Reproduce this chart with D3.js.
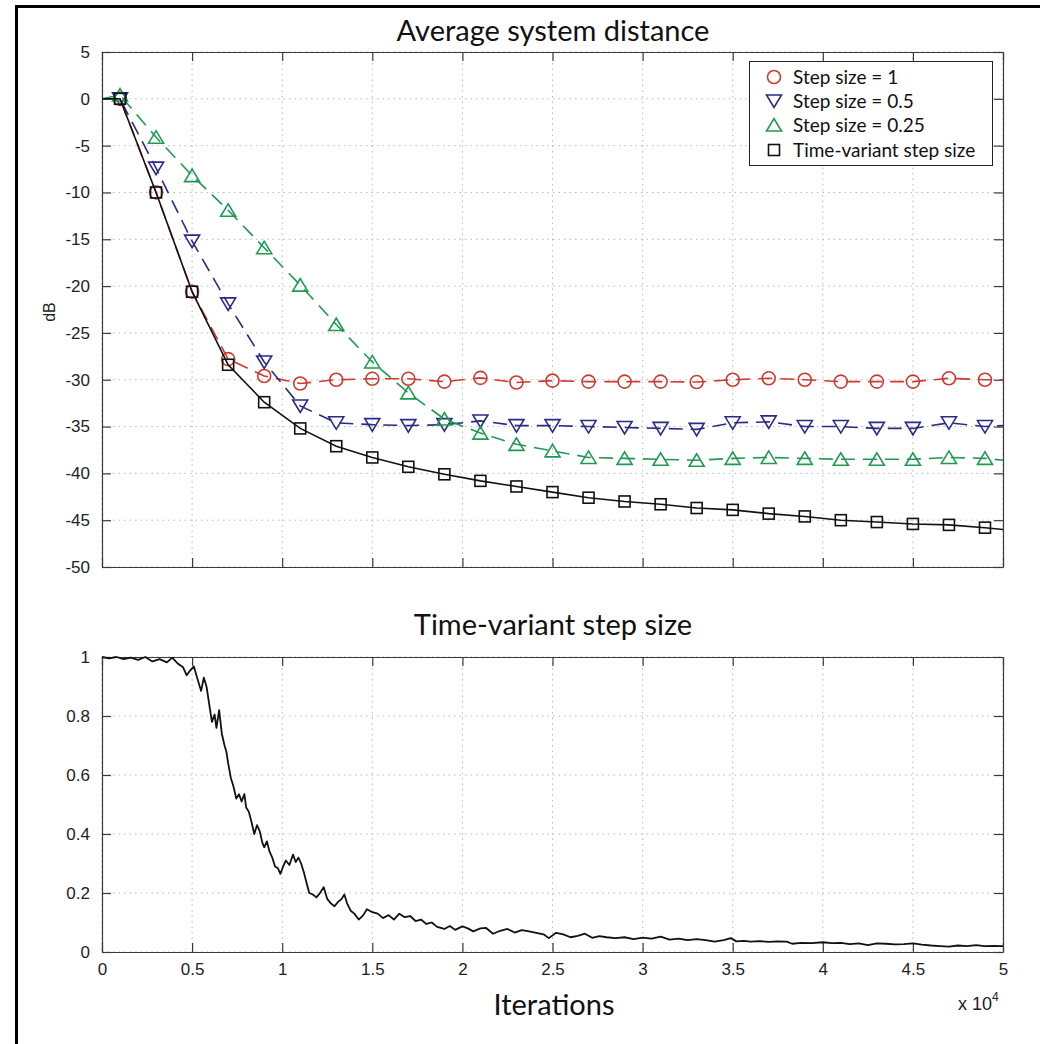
<!DOCTYPE html>
<html>
<head>
<meta charset="utf-8">
<script src="https://cdn.jsdelivr.net/npm/d3@7"></script>
<style>
  body { margin: 0; background: #fff; }
  svg { display: block; }
</style>
</head>
<body>
<div class="chart"></div>
<script>
// x values are in units of 10^4 iterations
var xTicks = [0, 0.5, 1, 1.5, 2, 2.5, 3, 3.5, 4, 4.5, 5]
var xTickLabels = ['0', '0.5', '1', '1.5', '2', '2.5', '3', '3.5', '4', '4.5', '5']
var dbTicks = [5, 0, -5, -10, -15, -20, -25, -30, -35, -40, -45, -50]
var muTicks = [0, 0.2, 0.4, 0.6, 0.8, 1]

// marker positions shared by the four curves of the top panel
var markerX = [0.1, 0.3, 0.5, 0.7, 0.9, 1.1, 1.3, 1.5, 1.7, 1.9, 2.1, 2.3, 2.5,
  2.7, 2.9, 3.1, 3.3, 3.5, 3.7, 3.9, 4.1, 4.3, 4.5, 4.7, 4.9]
var stepOne = [0, -10, -20.6, -27.8, -29.6, -30.4, -30.0, -29.9, -29.9, -30.2, -29.8, -30.3, -30.1,
  -30.2, -30.2, -30.2, -30.25, -30.0, -29.85, -30.0, -30.2, -30.2, -30.2, -29.85, -30.0]
var stepHalf = [0, -7.4, -15.2, -21.9, -28.1, -32.8, -34.6, -34.8, -34.9, -34.8, -34.4, -34.9, -34.9,
  -35.0, -35.1, -35.2, -35.3, -34.6, -34.5, -35.0, -35.0, -35.2, -35.2, -34.6, -35.0]
var stepQuarter = [0.4, -4.1, -8.2, -11.9, -15.9, -19.9, -24.1, -28.1, -31.4, -34.2, -35.7, -36.9, -37.6,
  -38.3, -38.4, -38.5, -38.6, -38.4, -38.3, -38.4, -38.5, -38.5, -38.5, -38.3, -38.4]
var stepVariant = [0, -10.0, -20.6, -28.4, -32.4, -35.2, -37.1, -38.3, -39.3, -40.1, -40.8, -41.4, -42.0,
  -42.6, -43.0, -43.3, -43.7, -43.9, -44.3, -44.6, -45.0, -45.2, -45.4, -45.5, -45.8]
// line start (x = 0) and end (x = 5) values
var lineStart = [0, 0, 0, 0]
var lineEnd = [-30.0, -34.9, -38.6, -46.0]

var seriesNames = ['Step size = 1', 'Step size = 0.5', 'Step size = 0.25', 'Time-variant step size']

// bottom panel: time-variant step size
var muX = [0, 0.04, 0.08, 0.12, 0.16, 0.2, 0.24, 0.28, 0.32, 0.36, 0.39, 0.42, 0.45, 0.47, 0.49,
  0.51, 0.53, 0.55, 0.565, 0.58, 0.6, 0.61, 0.625, 0.635, 0.65, 0.665, 0.68, 0.69, 0.7, 0.715,
  0.73, 0.745, 0.76, 0.775, 0.79, 0.8, 0.815, 0.83, 0.845, 0.86, 0.875, 0.89, 0.9, 0.915, 0.93,
  0.945, 0.96, 0.975, 0.99, 1.005, 1.02, 1.04, 1.06, 1.075, 1.09, 1.105, 1.12, 1.135, 1.15, 1.17,
  1.19, 1.21, 1.23, 1.25, 1.27, 1.29, 1.31, 1.33, 1.345, 1.36, 1.38, 1.4, 1.425, 1.45, 1.47,
  1.5, 1.53, 1.56, 1.59, 1.62, 1.65, 1.68, 1.71, 1.74, 1.77, 1.8, 1.83, 1.86, 1.9, 1.93, 1.96,
  2.0, 2.03, 2.06, 2.1, 2.13, 2.17, 2.21, 2.25, 2.29, 2.33, 2.37, 2.41, 2.45, 2.48, 2.52, 2.56,
  2.6, 2.64, 2.68, 2.72, 2.76, 2.8, 2.85, 2.9, 2.95, 3.0, 3.05, 3.1, 3.15, 3.2, 3.25, 3.3, 3.35,
  3.4, 3.45, 3.49, 3.52, 3.56, 3.6, 3.65, 3.7, 3.75, 3.8, 3.83, 3.88, 3.94, 4.0, 4.05, 4.1, 4.15,
  4.2, 4.25, 4.3, 4.35, 4.4, 4.45, 4.5, 4.55, 4.6, 4.65, 4.7, 4.75, 4.8, 4.85, 4.9, 4.95, 5.0]
var muVal = [1.0, 0.995, 1.0, 0.993, 0.998, 0.99, 1.0, 0.985, 0.993, 0.982, 0.998, 0.978, 0.965, 0.938, 0.955,
  0.968, 0.925, 0.885, 0.93, 0.9, 0.82, 0.78, 0.805, 0.76, 0.82, 0.74, 0.7, 0.68, 0.64, 0.59,
  0.56, 0.52, 0.535, 0.51, 0.535, 0.49, 0.475, 0.44, 0.4, 0.43, 0.41, 0.37, 0.355, 0.375, 0.34,
  0.32, 0.29, 0.285, 0.265, 0.29, 0.31, 0.295, 0.33, 0.305, 0.32, 0.3, 0.27, 0.235, 0.2, 0.195,
  0.185, 0.2, 0.22, 0.18, 0.165, 0.155, 0.17, 0.18, 0.195, 0.165, 0.14, 0.13, 0.11, 0.125, 0.145,
  0.135, 0.13, 0.115, 0.125, 0.11, 0.13, 0.118, 0.122, 0.105, 0.11, 0.095, 0.1, 0.085, 0.078, 0.088, 0.075,
  0.087, 0.08, 0.07, 0.08, 0.082, 0.062, 0.072, 0.078, 0.066, 0.074, 0.07, 0.065, 0.06, 0.047, 0.065, 0.06,
  0.05, 0.055, 0.062, 0.048, 0.054, 0.05, 0.047, 0.05, 0.044, 0.049, 0.045, 0.052, 0.042, 0.045, 0.04, 0.044, 0.04,
  0.035, 0.04, 0.047, 0.036, 0.038, 0.035, 0.037, 0.034, 0.036, 0.035, 0.028, 0.031, 0.03, 0.033, 0.03, 0.031, 0.027,
  0.029, 0.023, 0.029, 0.028, 0.026, 0.027, 0.029, 0.025, 0.022, 0.02, 0.018, 0.022, 0.02, 0.023, 0.02, 0.021, 0.02]

var W = 1040, H = 1044
var tickFont = '"Liberation Sans", Arial, sans-serif'
var titleFont = 'Lato, "Open Sans", sans-serif'

var svg = d3.select('.chart').append('svg').attr('width', W).attr('height', H)
svg.append('rect').attr('width', W).attr('height', H).attr('fill', '#fff')

// outer frame (left and top edges of the pasted figure)
svg.append('path').attr('d', 'M16.5,' + H + 'V6.5H' + W)
  .attr('fill', 'none').attr('stroke', '#000').attr('stroke-width', 3)

var x = d3.scaleLinear().domain([0, 5]).range([102, 1003])
var yTop = d3.scaleLinear().domain([-50, 5]).range([567, 52])
var yBot = d3.scaleLinear().domain([0, 1]).range([952, 657])

// ---- panel frame: grid, mirrored inward ticks, box ----
function panel(y, yTicks, showX){
  var g = svg.append('g')
  var y0 = y.range()[0], y1 = y.range()[1]
  var grid = g.append('g')
  xTicks.forEach(function(t){
    grid.append('line').attr('x1', x(t)).attr('x2', x(t)).attr('y1', y1).attr('y2', y0)
  })
  yTicks.forEach(function(t){
    grid.append('line').attr('x1', x.range()[0]).attr('x2', x.range()[1]).attr('y1', y(t)).attr('y2', y(t))
  })
  grid.selectAll('line').attr('stroke', '#b8b8b8').attr('stroke-width', 1).attr('stroke-dasharray', '1.5,4')

  var bottom = d3.axisBottom(x).tickValues(xTicks).tickSize(-9).tickSizeOuter(0).tickPadding(11)
    .tickFormat(function(d, i){ return showX ? xTickLabels[i] : '' })
  var top = d3.axisTop(x).tickValues(xTicks).tickSize(-9).tickSizeOuter(0).tickFormat('')
  var left = d3.axisLeft(y).tickValues(yTicks).tickSize(-9).tickSizeOuter(0).tickPadding(12)
    .tickFormat(function(d){ return String(d) })
  var right = d3.axisRight(y).tickValues(yTicks).tickSize(-9).tickSizeOuter(0).tickFormat('')

  g.append('g').attr('transform', 'translate(0,' + y0 + ')').call(bottom)
  g.append('g').attr('transform', 'translate(0,' + y1 + ')').call(top)
  g.append('g').attr('transform', 'translate(' + x.range()[0] + ',0)').call(left)
  g.append('g').attr('transform', 'translate(' + x.range()[1] + ',0)').call(right)
  g.selectAll('.domain').attr('stroke', '#3a3a3a').attr('stroke-width', 1.2)
  g.selectAll('.tick line').attr('stroke', '#3a3a3a').attr('stroke-width', 1.2)
  g.selectAll('.tick text').attr('fill', '#222').style('font-family', tickFont).style('font-size', '17px')
  return g
}

panel(yTop, dbTicks, false)
panel(yBot, muTicks, true)

// ---- top panel curves ----
var series = [
  {vals: stepOne, color: '#cc3a30', shape: 'circle', dash: '14,8'},
  {vals: stepHalf, color: '#2b2a86', shape: 'down', dash: '14,8'},
  {vals: stepQuarter, color: '#1f9a52', shape: 'up', dash: '14,8'},
  {vals: stepVariant, color: '#111', shape: 'square', dash: null}
]

function marker(sel, shape, cx, cy, color){
  if (shape == 'circle'){
    sel.append('circle').attr('cx', cx).attr('cy', cy).attr('r', 6.5)
      .attr('fill', 'none').attr('stroke', color).attr('stroke-width', 1.6)
  } else if (shape == 'square'){
    sel.append('rect').attr('x', cx - 5.5).attr('y', cy - 5.5).attr('width', 11).attr('height', 11)
      .attr('fill', 'none').attr('stroke', color).attr('stroke-width', 1.6)
  } else {
    var s = shape == 'down' ? 1 : -1
    var pts = [[cx - 7.5, cy - 6 * s], [cx + 7.5, cy - 6 * s], [cx, cy + 6.5 * s]]
    sel.append('path').attr('d', 'M' + pts.join('L') + 'Z')
      .attr('fill', 'none').attr('stroke', color).attr('stroke-width', 1.6).attr('stroke-linejoin', 'miter')
  }
}

var lineTop = d3.line().x(function(d){ return x(d[0]) }).y(function(d){ return yTop(d[1]) })
var curves = svg.append('g')
series.forEach(function(s, i){
  var pts = [[0, lineStart[i]]]
  markerX.forEach(function(mx, j){ pts.push([mx, s.vals[j]]) })
  pts.push([5, lineEnd[i]])
  var p = curves.append('path').attr('d', lineTop(pts))
    .attr('fill', 'none').attr('stroke', s.color).attr('stroke-width', 1.6)
  if (s.dash) p.attr('stroke-dasharray', s.dash)
  var mg = curves.append('g')
  markerX.forEach(function(mx, j){ marker(mg, s.shape, x(mx), yTop(s.vals[j]), s.color) })
})

// ---- legend ----
var lg = svg.append('g')
lg.append('rect').attr('x', 749.5).attr('y', 61.5).attr('width', 243).attr('height', 104)
  .attr('fill', '#fff').attr('stroke', '#222').attr('stroke-width', 1)
var rowY = [77, 101, 125, 150]
series.forEach(function(s, i){
  marker(lg, s.shape, 774, rowY[i], s.color)
  lg.append('text').text(seriesNames[i]).attr('x', 793).attr('y', rowY[i] + 6.5)
    .style('font-family', titleFont).style('font-size', '19px').attr('fill', '#111')
})

// ---- bottom panel curve ----
var lineBot = d3.line().x(function(d, i){ return x(muX[i]) }).y(function(d){ return yBot(d) })
svg.append('path').attr('d', lineBot(muVal))
  .attr('fill', 'none').attr('stroke', '#111').attr('stroke-width', 1.8).attr('stroke-linejoin', 'round')

// ---- titles and labels ----
svg.append('text').text('Average system distance').attr('x', 553).attr('y', 41)
  .attr('text-anchor', 'middle').style('font-family', titleFont).style('font-size', '29px').attr('fill', '#111')
svg.append('text').text('Time-variant step size').attr('x', 553).attr('y', 635)
  .attr('text-anchor', 'middle').style('font-family', titleFont).style('font-size', '29px').attr('fill', '#111')
svg.append('text').text('Iterations').attr('x', 554).attr('y', 1015)
  .attr('text-anchor', 'middle').style('font-family', titleFont).style('font-size', '29px').attr('fill', '#111')
svg.append('text').text('dB').attr('transform', 'translate(55,312) rotate(-90)')
  .attr('text-anchor', 'middle').style('font-family', tickFont).style('font-size', '16px').attr('fill', '#222')

var sci = svg.append('text').attr('x', 958).attr('y', 1010)
  .style('font-family', tickFont).style('font-size', '18px').attr('fill', '#222')
sci.append('tspan').text('x 10')
sci.append('tspan').text('4').attr('dy', -9).style('font-size', '12px')
</script>
</body>
</html>
